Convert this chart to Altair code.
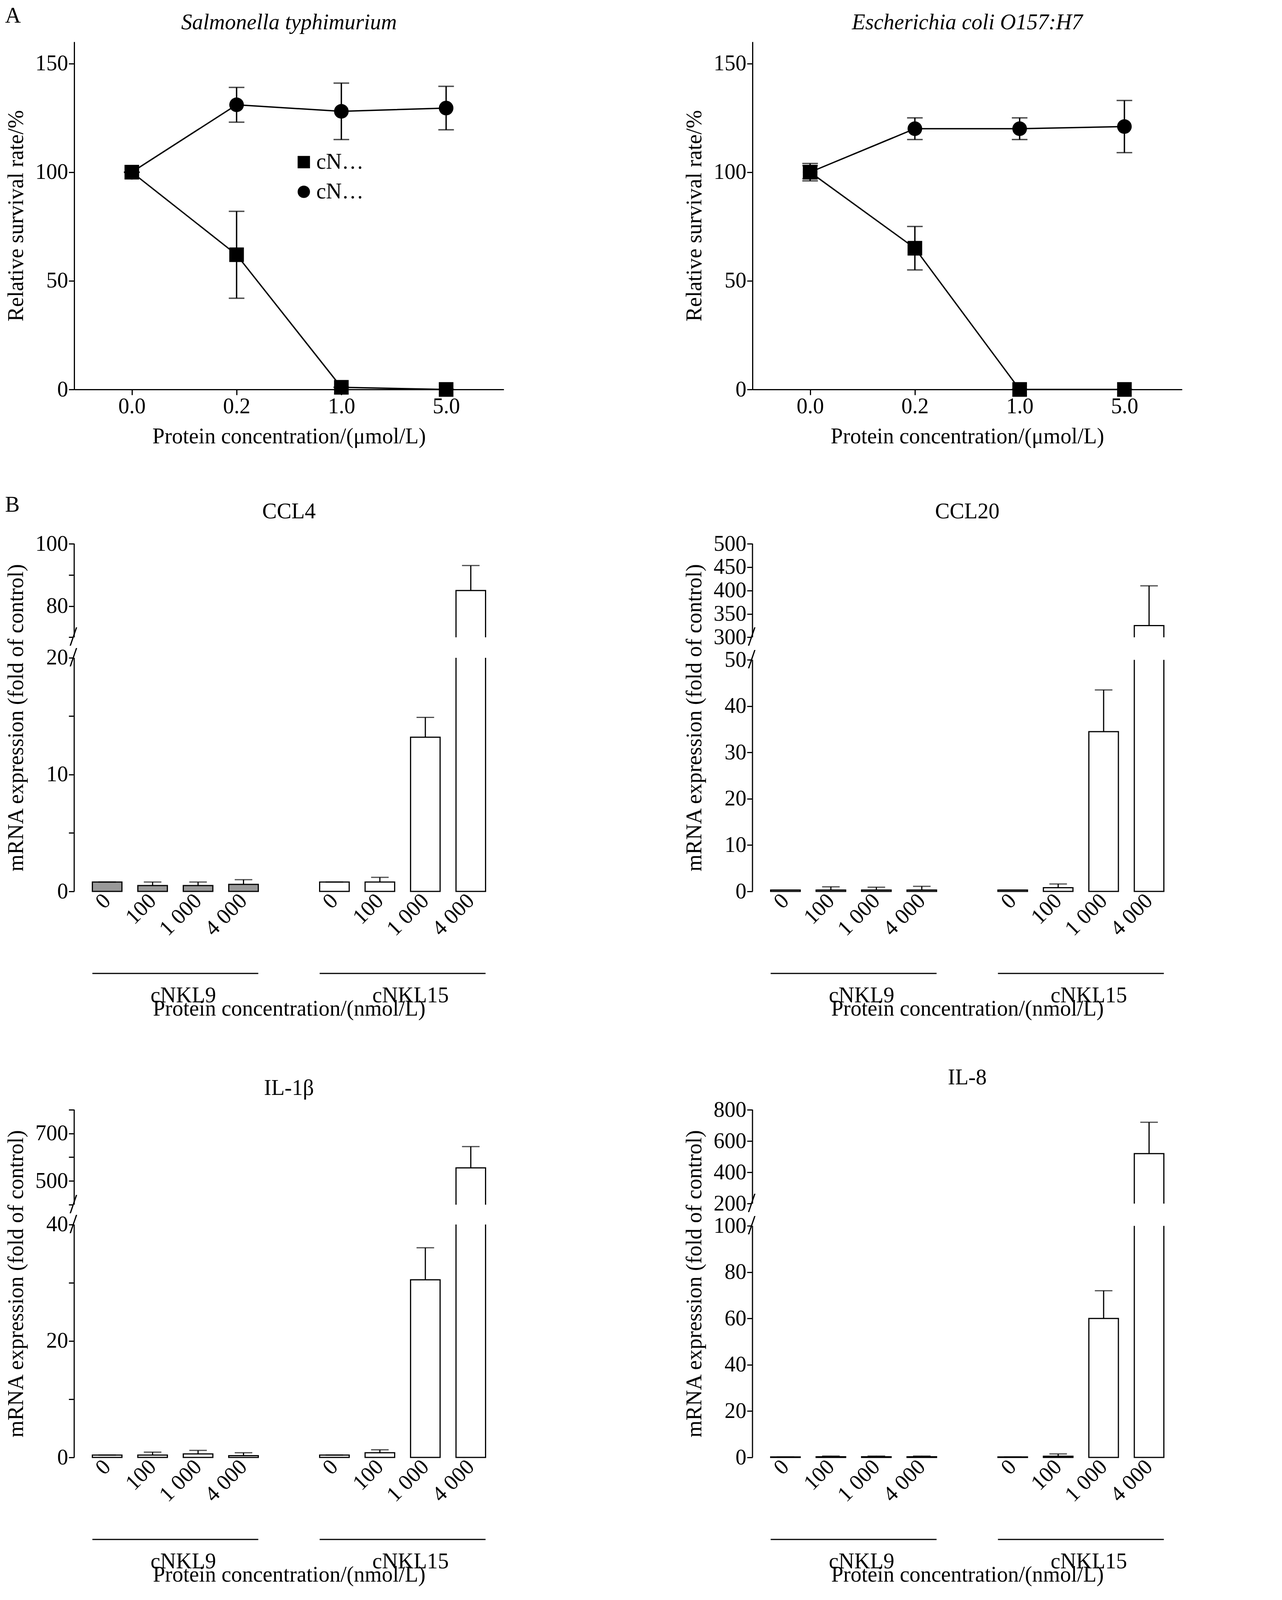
import pandas as pd
import altair as alt

FONT = "Liberation Serif"
FS = 56

# ---- panel A data ----
conc = ["0.0", "0.2", "1.0", "5.0"]
sal_nkl9 = [100, 62, 1, 0]
sal_nkl9_err = [0, 20, 0, 0]
sal_nkl15 = [100, 131, 128, 129.5]
sal_nkl15_err = [0, 8, 13, 10]
eco_nkl9 = [100, 65, 0, 0]
eco_nkl9_err = [3, 10, 0, 0]
eco_nkl15 = [100, 120, 120, 121]
eco_nkl15_err = [4, 5, 5, 12]

# ---- panel B data ----
doses = ["0", "100", "1 000", "4 000"]
ccl4_9 = [0.8, 0.5, 0.5, 0.6]
ccl4_9_err = [0, 0.3, 0.3, 0.4]
ccl4_15 = [0.8, 0.8, 13.2, 85]
ccl4_15_err = [0, 0.4, 1.7, 8]
ccl20_9 = [0.3, 0.3, 0.3, 0.3]
ccl20_9_err = [0, 0.7, 0.6, 0.8]
ccl20_15 = [0.3, 0.8, 34.5, 325]
ccl20_15_err = [0, 0.8, 9, 85]
il1b_9 = [0.4, 0.4, 0.6, 0.3]
il1b_9_err = [0, 0.5, 0.6, 0.5]
il1b_15 = [0.4, 0.8, 30.5, 555]
il1b_15_err = [0, 0.5, 5.5, 90]
il8_9 = [0.2, 0.3, 0.3, 0.3]
il8_9_err = [0, 0.3, 0.3, 0.3]
il8_15 = [0.2, 0.5, 60, 520]
il8_15_err = [0, 1, 12, 200]

W, H = 1100, 890
BW, BH = 1100, 890


def line_panel(title, italic_title, v9, e9, v15, e15):
    rows = []
    for name, v, e in [("cNKL9", v9, e9), ("cNKL15", v15, e15)]:
        for c, val, err in zip(conc, v, e):
            rows.append({"c": c, "s": name, "v": val, "lo": val - err, "hi": val + err})
    df = pd.DataFrame(rows)
    x = alt.X("c:O", sort=conc, scale=alt.Scale(type="point", padding=0.55),
              axis=alt.Axis(title="Protein concentration/(μmol/L)", labelAngle=0, titlePadding=22))
    base = alt.Chart(df)
    line = base.mark_line(color="black", strokeWidth=3.5).encode(x=x, y=alt.Y("v:Q"), detail="s:N")
    err = base.mark_rule(color="black", strokeWidth=3.5).encode(x=x, y="lo:Q", y2="hi:Q")
    caps_hi = base.mark_tick(color="black", thickness=3.5, size=40, orient="horizontal").encode(x=x, y="hi:Q")
    caps_lo = base.mark_tick(color="black", thickness=3.5, size=40, orient="horizontal").encode(x=x, y="lo:Q")
    pts = base.mark_point(filled=True, opacity=1, color="black", size=1400).encode(
        x=x,
        y=alt.Y("v:Q", scale=alt.Scale(domain=[0, 150]),
                axis=alt.Axis(values=[0, 50, 100, 150], title="Relative survival rate/%", titlePadding=20)),
        shape=alt.Shape("s:N", sort=["cNKL9", "cNKL15"],
                        scale=alt.Scale(domain=["cNKL9", "cNKL15"], range=["square", "circle"]),
                        legend=alt.Legend(title=None, orient="none", legendX=560, legendY=280,
                                          symbolSize=1000, symbolFillColor="black",
                                          symbolStrokeColor="black", labelFontSize=FS, rowPadding=20)),
    )
    return (line + err + caps_hi + caps_lo + pts).properties(
        width=W, height=H,
        title=alt.TitleParams(title, fontStyle="italic" if italic_title else "normal", fontSize=FS,
                              fontWeight="normal", offset=20),
    )


def bar_panel(title, v9, e9, v15, e15, dom, frac, ticks, gray):
    slots = [f"a|{d}" for d in doses] + ["gap"] + [f"b|{d}" for d in doses]
    rows = []
    for g, v, e in [("a", v9, e9), ("b", v15, e15)]:
        for d, val, err in zip(doses, v, e):
            rows.append({"slot": f"{g}|{d}", "v": val, "hi": val + err, "g": g,
                         "fill": "#999999" if (g == "a" and gray) else "white"})
    df = pd.DataFrame(rows)
    rng = [BH, BH * frac[0], BH * frac[1], 0]
    ys = alt.Scale(domain=dom, range=rng, nice=False, zero=False)
    x = alt.X("slot:N", sort=slots, scale=alt.Scale(domain=slots, paddingInner=0.35, paddingOuter=0.4),
              axis=alt.Axis(title="Protein concentration/(nmol/L)", titlePadding=150, labelAngle=-45,
                            labelAlign="right", labelBaseline="middle", ticks=False, domain=False,
                            labelPadding=15,
                            labelExpr="indexof(datum.value,'|')>=0 ? split(datum.value,'|')[1] : ''"))
    base = alt.Chart(df)
    bars = base.mark_bar(stroke="black", strokeWidth=3).encode(
        x=x,
        y=alt.Y("v:Q", scale=ys, axis=alt.Axis(values=ticks, domain=False,
                                               title="mRNA expression (fold of control)", titlePadding=20)),
        fill=alt.Fill("fill:N", scale=None),
    )
    err = base.mark_rule(color="black", strokeWidth=3).encode(x=x, y="v:Q", y2="hi:Q")
    cap = base.mark_tick(color="black", thickness=3, size=45, orient="horizontal").encode(x=x, y="hi:Q")
    gap_df = pd.DataFrame({"lo": [dom[1]], "hi": [dom[2]]})
    gap = alt.Chart(gap_df).mark_rect(color="white").encode(
        x=alt.value(-2), x2=alt.value(BW), y=alt.Y("lo:Q", scale=ys), y2="hi:Q")
    ax_df = pd.DataFrame({"lo": [dom[0], dom[2]], "hi": [dom[1], dom[3]]})
    axl = alt.Chart(ax_df).mark_rule(color="black", strokeWidth=3).encode(
        x=alt.value(0), y=alt.Y("lo:Q", scale=ys), y2="hi:Q")
    brk_df = pd.DataFrame({"b": [dom[1], dom[2]]})
    brk = alt.Chart(brk_df).mark_text(text="/", fontSize=70, font=FONT, dx=-2).encode(
        x=alt.value(0), y=alt.Y("b:Q", scale=ys))
    grp_df = pd.DataFrame({"s": ["a|0", "b|0"], "e": ["a|4 000", "b|4 000"],
                           "m": ["a|1 000", "b|1 000"], "lab": ["cNKL9", "cNKL15"]})
    grp = alt.Chart(grp_df).mark_rule(color="black", strokeWidth=3).encode(
        x=alt.X("s:N", sort=slots, bandPosition=0), x2=alt.X2("e:N", bandPosition=1),
        y=alt.value(BH + 210))
    glab = alt.Chart(grp_df).mark_text(fontSize=FS, font=FONT, baseline="top").encode(
        x=alt.X("m:N", sort=slots, bandPosition=0), text="lab:N", y=alt.value(BH + 240))
    return (bars + err + cap + gap + axl + brk + grp + glab).properties(
        width=BW, height=BH,
        title=alt.TitleParams(title, fontSize=FS, fontWeight="normal", offset=25),
    )


top = alt.hconcat(
    line_panel("Salmonella typhimurium", True, sal_nkl9, sal_nkl9_err, sal_nkl15, sal_nkl15_err),
    line_panel("Escherichia coli O157:H7", True, eco_nkl9, eco_nkl9_err, eco_nkl15, eco_nkl15_err),
    spacing=460,
).properties(title=alt.TitleParams("A", anchor="start", fontSize=FS, fontWeight="normal", offset=-40))

mid = alt.hconcat(
    bar_panel("CCL4", ccl4_9, ccl4_9_err, ccl4_15, ccl4_15_err, [0, 20, 70, 100], [0.328, 0.269],
              [0, 5, 10, 15, 20, 70, 80, 90, 100], True),
    bar_panel("CCL20", ccl20_9, ccl20_9_err, ccl20_15, ccl20_15_err, [0, 50, 300, 500], [0.334, 0.269],
              [0, 10, 20, 30, 40, 50, 300, 350, 400, 450, 500], False),
    spacing=460,
).properties(title=alt.TitleParams("B", anchor="start", fontSize=FS, fontWeight="normal", offset=-40))

bot = alt.hconcat(
    bar_panel("IL-1β", il1b_9, il1b_9_err, il1b_15, il1b_15_err, [0, 40, 400, 800], [0.33, 0.273],
              [0, 10, 20, 30, 40, 400, 500, 600, 700, 800], False),
    bar_panel("IL-8", il8_9, il8_9_err, il8_15, il8_15_err, [0, 100, 200, 800], [0.334, 0.27],
              [0, 20, 40, 60, 80, 100, 200, 400, 600, 800], False),
    spacing=460,
)

chart = alt.vconcat(top, mid, bot, spacing=120).configure(font=FONT).configure_axis(
    labelFontSize=FS, titleFontSize=FS, labelColor="black", titleColor="black", titleFontWeight="normal",
    grid=False, domainColor="black", tickColor="black", domainWidth=3, tickWidth=3, tickSize=14,
    labelFont=FONT, titleFont=FONT,
).configure_view(stroke=None).configure_legend(labelFont=FONT)

chart.save("out.html", embed_options={"renderer": "svg", "actions": False})
